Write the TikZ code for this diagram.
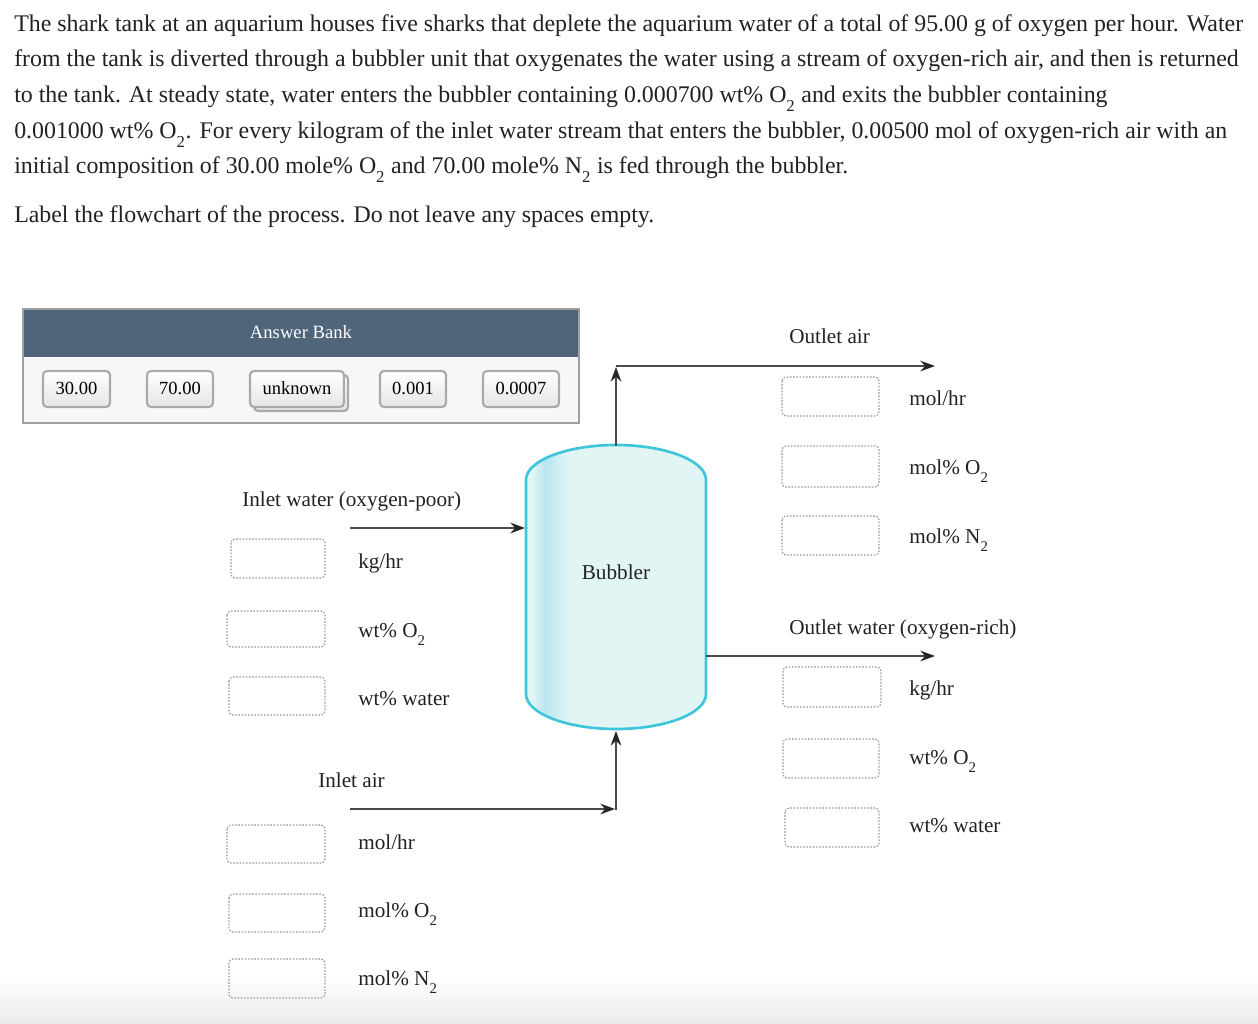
\documentclass[tikz,border=0pt]{standalone}
\usepackage{fontspec}
\setmainfont{Liberation Serif}
\usetikzlibrary{arrows.meta}
\definecolor{hdr}{HTML}{50657A}
\definecolor{bankbg}{HTML}{F7F7F7}
\definecolor{bankbd}{HTML}{A0A0A0}
\definecolor{btnbd}{HTML}{AAAAAA}
\definecolor{btnbot}{HTML}{E6E6E6}
\definecolor{tlight}{HTML}{E1F5F5}
\definecolor{tband}{HTML}{B8E6EE}
\definecolor{tstroke}{HTML}{3FC6DB}
\definecolor{arrgray}{HTML}{4A4A4A}
\definecolor{dotgray}{HTML}{999999}
\definecolor{txt}{HTML}{222222}
\newcommand\lsub[1]{\raisebox{-0.22em}{\textsubscript{#1}}}
\tikzset{
  para/.style={anchor=base west, inner sep=0pt, font=\fontsize{17.9}{21}\selectfont, text=txt},
  lbl/.style={anchor=base west, inner sep=0pt, font=\fontsize{15.9}{19}\selectfont, text=txt},
  btntxt/.style={anchor=base, inner sep=0pt, font=\fontsize{13.9}{16}\selectfont, text=black},
  btn/.style={draw=btnbd, line width=1.6pt, rounded corners=3pt, top color=white, bottom color=btnbot},
  slot/.style={draw=dotgray, line width=0.9pt, dash pattern=on 1.2pt off 1.2pt, rounded corners=3pt},
  arr/.style={draw=arrgray, line width=1.1pt, -{Stealth[length=11pt,width=8pt,color=black!85]}},
}
\begin{document}
\begin{tikzpicture}[x=0.75pt,y=-0.75pt]
\useasboundingbox (0,0) rectangle (1258,1024);
\fill[white] (0,0) rectangle (1258,1024);
\shade[top color=white, bottom color=black!8, draw=none] (0,975) rectangle (1258,1024);

% paragraph
\node[para] (p1) at (14,32) {The shark tank at an aquarium houses five sharks that deplete the aquarium water of a total of 95.00 g of oxygen per hour. Water};
\node[para] (p2) at (14,67) {from the tank is diverted through a bubbler unit that oxygenates the water using a stream of oxygen-rich air, and then is returned};
\node[para] (p3) at (14,103) {to the tank. At steady state, water enters the bubbler containing 0.000700 wt\% O\lsub{2} and exits the bubbler containing};
\node[para] (p4) at (14,139) {0.001000 wt\% O\lsub{2}. For every kilogram of the inlet water stream that enters the bubbler, 0.00500 mol of oxygen-rich air with an};
\node[para] (p5) at (14,174) {initial composition of 30.00 mole\% O\lsub{2} and 70.00 mole\% N\lsub{2} is fed through the bubbler.};
\node[para] (p6) at (14,223) {Label the flowchart of the process. Do not leave any spaces empty.};

% answer bank
\path[fill=bankbg, draw=bankbd, line width=1.5pt] (23,309) rectangle (579,423);
\path[fill=hdr] (24,310) rectangle (578,357);
\node[anchor=base, inner sep=0pt, font=\fontsize{14}{16}\selectfont, text=white] (bank) at (301,338) {Answer Bank};
\path[btn] (43,371) rectangle (110,407);
\node[btntxt] (b1) at (76.5,394) {30.00};
\path[btn] (147,371) rectangle (213,407);
\node[btntxt] (b2) at (180,394) {70.00};
\path[btn] (254,375) rectangle (348,411);
\path[btn] (250,371) rectangle (344,407);
\node[btntxt] (b3) at (297,394) {unknown};
\path[btn] (380,371) rectangle (446,407);
\node[btntxt] (b4) at (413,394) {0.001};
\path[btn] (483,371) rectangle (559,407);
\node[btntxt] (b5) at (521,394) {0.0007};

% bubbler tank
\def\tankpath{(526,480) .. controls (526,460.7) and (566.3,445) .. (616,445) .. controls (665.7,445) and (706,460.7) .. (706,480) -- (706,694) .. controls (706,713.3) and (665.7,729) .. (616,729) .. controls (566.3,729) and (526,713.3) .. (526,694) -- cycle}
\fill[tlight] \tankpath;
\begin{scope}
\clip \tankpath;
\shade[left color=tlight, right color=tband] (532,440) rectangle (545,740);
\shade[left color=tband, right color=tlight] (545,440) rectangle (568,740);
\end{scope}
\draw[tstroke, line width=2pt] \tankpath;
\node[anchor=base, inner sep=0pt, font=\fontsize{15.9}{19}\selectfont, text=txt] (tank) at (616,579) {Bubbler};
\coordinate (ttop) at (616,446);
\coordinate (tbot) at (616,731);
\coordinate (tleft) at (525,528);
\coordinate (tright) at (706,656);

% streams
\coordinate (oacorner) at (616,366);
\coordinate (oaup) at (616,367);
\coordinate (oaend) at (935,366);
\draw[arr] (ttop) -- (oaup);
\draw[arr] (oacorner) -- (oaend);

\coordinate (iwstart) at (350,528);
\draw[arr] (iwstart) -- (tleft);

\coordinate (owend) at (935,656);
\draw[arr] (tright) -- (owend);

\coordinate (iastart) at (350,809);
\coordinate (iaend) at (615,809);
\coordinate (iacorner) at (616,810);
\draw[arr] (iastart) -- (iaend);
\draw[arr] (iacorner) -- (tbot);

% stream labels
\node[lbl] (loa) at (789,343) {Outlet air};
\node[lbl] (liw) at (242,506) {Inlet water (oxygen-poor)};
\node[lbl] (low) at (789,634) {Outlet water (oxygen-rich)};
\node[lbl] (lia) at (318,787) {Inlet air};

% outlet air slots
\path[slot] (782,377) rectangle (879,416);
\path[slot] (782,446) rectangle (879,487);
\path[slot] (782,516) rectangle (879,555);
\node[lbl] (oa1) at (909,405) {mol/hr};
\node[lbl] (oa2) at (909,474) {mol\% O\lsub{2}};
\node[lbl] (oa3) at (909,543) {mol\% N\lsub{2}};

% inlet water slots
\path[slot] (231,539) rectangle (325,578);
\path[slot] (227,611) rectangle (325,647);
\path[slot] (229,677) rectangle (325,715);
\node[lbl] (iw1) at (358,568) {kg/hr};
\node[lbl] (iw2) at (358,637) {wt\% O\lsub{2}};
\node[lbl] (iw3) at (358,705) {wt\% water};

% outlet water slots
\path[slot] (783,667) rectangle (881,707);
\path[slot] (783,739) rectangle (879,778);
\path[slot] (785,808) rectangle (879,847);
\node[lbl] (ow1) at (909,695) {kg/hr};
\node[lbl] (ow2) at (909,764) {wt\% O\lsub{2}};
\node[lbl] (ow3) at (909,832) {wt\% water};

% inlet air slots
\path[slot] (227,825) rectangle (325,863);
\path[slot] (229,894) rectangle (325,932);
\path[slot] (229,959) rectangle (325,998);
\node[lbl] (ia1) at (358,849) {mol/hr};
\node[lbl] (ia2) at (358,917) {mol\% O\lsub{2}};
\node[lbl] (ia3) at (358,985) {mol\% N\lsub{2}};
\end{tikzpicture}
\end{document}
